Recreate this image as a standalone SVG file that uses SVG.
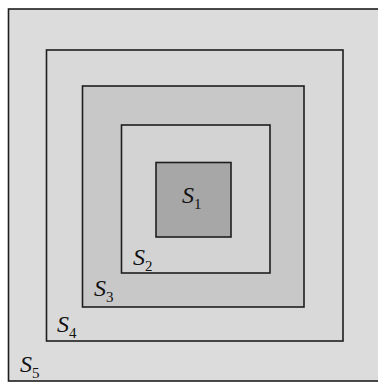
<svg xmlns="http://www.w3.org/2000/svg" width="378" height="382" viewBox="0 0 378 382">
<style>
.box{stroke:#1e1e1e;stroke-width:1.6}
.lbl{font-family:'Liberation Serif',serif;font-style:italic;font-size:24px;fill:#111}
.sub{font-style:normal;font-size:15px}
</style>
<rect width="378" height="382" fill="#ffffff"/>
<g id="S5"><rect class="box" x="8.5" y="9" width="380" height="372" fill="#dcdcdc"/>
<text class="lbl" x="20" y="372">S<tspan class="sub" dy="6">5</tspan></text></g>
<g id="S4"><rect class="box" x="46.5" y="50" width="296.5" height="291" fill="#d9d9d9"/>
<text class="lbl" x="57" y="332">S<tspan class="sub" dy="6">4</tspan></text></g>
<g id="S3"><rect class="box" x="82.5" y="86" width="221.5" height="221" fill="#c8c8c8"/>
<text class="lbl" x="94" y="296">S<tspan class="sub" dy="6">3</tspan></text></g>
<g id="S2"><rect class="box" x="121.5" y="125" width="148.5" height="148" fill="#d3d3d3"/>
<text class="lbl" x="133" y="265">S<tspan class="sub" dy="6">2</tspan></text></g>
<g id="S1"><rect class="box" x="156" y="162.5" width="75" height="74.5" fill="#a7a7a7"/>
<text class="lbl" x="182" y="203">S<tspan class="sub" dy="6">1</tspan></text></g>
</svg>
